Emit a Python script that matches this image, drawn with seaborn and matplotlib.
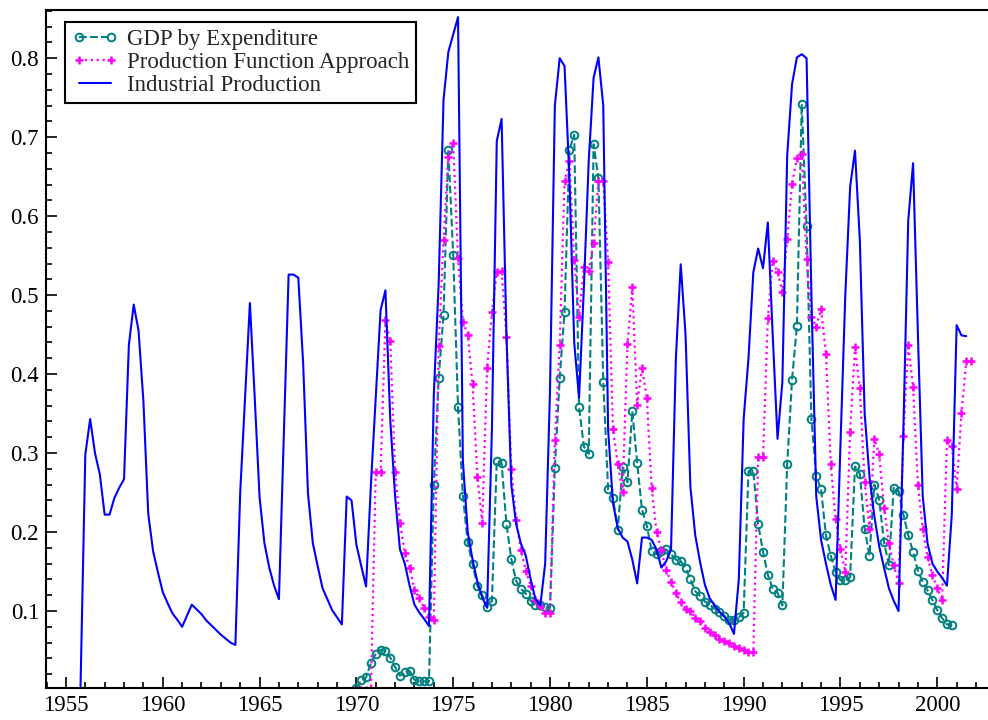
import numpy as np
import pandas as pd
import matplotlib
matplotlib.use("Agg")
import matplotlib.pyplot as plt
import seaborn as sns
from matplotlib.ticker import MultipleLocator, FormatStrFormatter

# quarterly series, values
ip_start = "1955Q4"
ip_values = [
    0.000,
    0.298, 0.343, 0.300, 0.273,
    0.222, 0.222, 0.243, 0.256,
    0.267, 0.437, 0.488, 0.455,
    0.366, 0.223, 0.176, 0.149,
    0.124, 0.110, 0.097, 0.089,
    0.080, 0.094, 0.108, 0.102,
    0.096, 0.088, 0.082, 0.076,
    0.070, 0.065, 0.060, 0.057,
    0.250, 0.370, 0.490, 0.370,
    0.244, 0.186, 0.155, 0.132,
    0.115, 0.320, 0.526, 0.526,
    0.522, 0.414, 0.249, 0.186,
    0.157, 0.129, 0.115, 0.101,
    0.092, 0.083, 0.245, 0.240,
    0.184, 0.157, 0.131, 0.260,
    0.370, 0.481, 0.506, 0.342,
    0.245, 0.178, 0.160, 0.132,
    0.108, 0.098, 0.090, 0.081,
    0.375, 0.515, 0.747, 0.808,
    0.830, 0.852, 0.290, 0.200,
    0.165, 0.137, 0.117, 0.104,
    0.330, 0.695, 0.723, 0.450,
    0.260, 0.210, 0.185, 0.170,
    0.140, 0.115, 0.107, 0.160,
    0.380, 0.740, 0.800, 0.790,
    0.650, 0.440, 0.370, 0.510,
    0.670, 0.775, 0.801, 0.740,
    0.330, 0.237, 0.205, 0.193,
    0.188, 0.165, 0.135, 0.193,
    0.193, 0.190, 0.178, 0.155,
    0.163, 0.178, 0.420, 0.539,
    0.450, 0.257, 0.196, 0.162,
    0.133, 0.116, 0.107, 0.099,
    0.093, 0.085, 0.071, 0.140,
    0.343, 0.420, 0.529, 0.559,
    0.534, 0.592, 0.450, 0.318,
    0.390, 0.677, 0.767, 0.801,
    0.805, 0.800, 0.500, 0.245,
    0.190, 0.160, 0.133, 0.114,
    0.310, 0.500, 0.637, 0.683,
    0.570, 0.350, 0.270, 0.220,
    0.182, 0.155, 0.129, 0.113,
    0.100, 0.330, 0.594, 0.667,
    0.450, 0.245, 0.185, 0.160,
    0.150, 0.142, 0.132, 0.222,
    0.462, 0.449, 0.448,
]

gdp_start = "1970Q1"
gdp_values = [
    0.002, 0.013, 0.016, 0.034,
    0.046, 0.051, 0.049, 0.041,
    0.029, 0.018, 0.023, 0.024,
    0.013, 0.011, 0.011, 0.011,
    0.260, 0.395, 0.475, 0.684,
    0.551, 0.358, 0.246, 0.187,
    0.159, 0.132, 0.120, 0.105,
    0.113, 0.290, 0.287, 0.210,
    0.166, 0.138, 0.128, 0.122,
    0.113, 0.108, 0.107, 0.105,
    0.104, 0.281, 0.395, 0.479,
    0.684, 0.703, 0.358, 0.308,
    0.299, 0.691, 0.648, 0.390,
    0.254, 0.243, 0.203, 0.282,
    0.263, 0.353, 0.288, 0.228,
    0.208, 0.176, 0.172, 0.176,
    0.178, 0.172, 0.165, 0.163,
    0.155, 0.140, 0.125, 0.119,
    0.112, 0.108, 0.103, 0.099,
    0.094, 0.089, 0.089, 0.092,
    0.098, 0.277, 0.277, 0.210,
    0.175, 0.146, 0.128, 0.123,
    0.107, 0.286, 0.393, 0.461,
    0.742, 0.587, 0.343, 0.271,
    0.254, 0.196, 0.170, 0.149,
    0.139, 0.139, 0.143, 0.283,
    0.274, 0.204, 0.170, 0.260,
    0.241, 0.187, 0.158, 0.256,
    0.252, 0.222, 0.196, 0.175,
    0.151, 0.137, 0.126, 0.114,
    0.101, 0.091, 0.083, 0.082,
]

pf_start = "1970Q1"
pf_values = [
    0.000, 0.000, 0.000, 0.000,
    0.276, 0.276, 0.468, 0.442,
    0.276, 0.212, 0.174, 0.155,
    0.127, 0.116, 0.104, 0.093,
    0.088, 0.435, 0.570, 0.675,
    0.692, 0.547, 0.466, 0.450,
    0.387, 0.270, 0.212, 0.408,
    0.478, 0.529, 0.531, 0.447,
    0.280, 0.215, 0.177, 0.151,
    0.132, 0.114, 0.106, 0.098,
    0.097, 0.317, 0.437, 0.644,
    0.670, 0.544, 0.472, 0.536,
    0.531, 0.566, 0.645, 0.645,
    0.542, 0.331, 0.286, 0.251,
    0.438, 0.510, 0.361, 0.408,
    0.370, 0.256, 0.200, 0.177,
    0.152, 0.137, 0.123, 0.111,
    0.103, 0.100, 0.091, 0.087,
    0.079, 0.073, 0.069, 0.065,
    0.062, 0.059, 0.056, 0.053,
    0.050, 0.048, 0.048, 0.295,
    0.295, 0.471, 0.543, 0.529,
    0.504, 0.571, 0.641, 0.673,
    0.679, 0.546, 0.472, 0.460,
    0.482, 0.426, 0.286, 0.216,
    0.178, 0.149, 0.327, 0.434,
    0.382, 0.263, 0.204, 0.318,
    0.299, 0.231, 0.186, 0.158,
    0.136, 0.322, 0.437, 0.384,
    0.260, 0.204, 0.168, 0.145,
    0.129, 0.114, 0.316, 0.309,
    0.254, 0.351, 0.417, 0.417,
]

labels = ["GDP by Expenditure", "Production Function Approach", "Industrial Production"]


def quarter_frame(start, values):
    p = pd.period_range(start, periods=len(values), freq="Q")
    return pd.DataFrame({"t": p.year + (p.quarter - 1) / 4.0, "v": values})


sns.set_theme(style="white")
plt.rcParams["font.family"] = ["Liberation Serif", "DejaVu Serif"]
plt.rcParams["axes.edgecolor"] = "black"
plt.rcParams["xtick.color"] = "black"
plt.rcParams["ytick.color"] = "black"

fig = plt.figure(figsize=(9.88, 7.2), dpi=100)
ax = fig.add_axes([46 / 988, 32 / 720, 942 / 988, 678 / 720])

sns.lineplot(data=quarter_frame(gdp_start, gdp_values), x="t", y="v", ax=ax,
             estimator=None, color="#008080", linestyle="--", linewidth=1.5,
             marker="o", markersize=5.5, mfc="none", mec="#008080", mew=1.4)
sns.lineplot(data=quarter_frame(pf_start, pf_values), x="t", y="v", ax=ax,
             estimator=None, color="#ff00ff", linestyle=":", linewidth=1.6,
             marker="+", markersize=6, mec="#ff00ff", mew=1.8)
sns.lineplot(data=quarter_frame(ip_start, ip_values), x="t", y="v", ax=ax,
             estimator=None, color="#0000ff", linestyle="-", linewidth=1.5)

ax.set_xlim(1953.97, 2002.62)
ax.set_ylim(0.0025, 0.861)
ax.set_xlabel("")
ax.set_ylabel("")

ax.xaxis.set_major_locator(MultipleLocator(5))
ax.xaxis.set_minor_locator(MultipleLocator(1))
ax.xaxis.set_major_formatter(FormatStrFormatter("%d"))
ax.set_yticks([0.1, 0.2, 0.3, 0.4, 0.5, 0.6, 0.7, 0.8])
ax.yaxis.set_minor_locator(MultipleLocator(0.02))
ax.yaxis.set_major_formatter(FormatStrFormatter("%.1f"))

ax.tick_params(which="both", direction="in", bottom=True, left=True,
               top=False, right=False, labelsize=16.5, width=1.2,
               color="black")
ax.tick_params(which="major", length=8, pad=5)
ax.tick_params(which="minor", length=4.5)

for side in ["left", "bottom", "top"]:
    ax.spines[side].set_linewidth(1.5)
    ax.spines[side].set_color("black")
ax.spines["right"].set_visible(False)

leg = ax.legend(ax.lines[:3], labels, loc="upper left",
                bbox_to_anchor=(0.0202, 0.9823), borderaxespad=0,
                fontsize=16.5, numpoints=2, handlelength=2.0,
                handletextpad=0.4, labelspacing=0.08, borderpad=0.3,
                fancybox=False, framealpha=1, edgecolor="black")
leg.get_frame().set_linewidth(1.5)

fig.savefig("out.png", dpi=100)
